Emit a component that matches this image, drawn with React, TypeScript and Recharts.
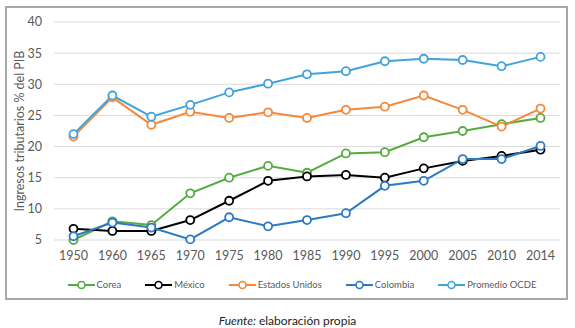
import React from "react";
import {
  LineChart,
  Line,
  XAxis,
  YAxis,
  CartesianGrid,
} from "recharts";

const years = ["1950", "1960", "1965", "1970", "1975", "1980", "1985", "1990", "1995", "2000", "2005", "2010", "2014"];
const corea = [5.0, 8.0, 7.4, 12.5, 15.0, 16.9, 15.8, 18.9, 19.1, 21.5, 22.5, 23.6, 24.6];
const mexico = [6.8, 6.45, 6.45, 8.2, 11.3, 14.5, 15.2, 15.45, 15.0, 16.5, 17.7, 18.5, 19.5];
const estadosUnidos = [21.6, 27.9, 23.5, 25.6, 24.6, 25.5, 24.6, 25.9, 26.4, 28.2, 25.9, 23.2, 26.1];
const colombia = [5.6, 7.8, 7.0, 5.1, 8.65, 7.2, 8.2, 9.3, 13.7, 14.5, 18.0, 18.0, 20.1];
const promedioOcde = [22.0, 28.2, 24.8, 26.7, 28.7, 30.1, 31.6, 32.1, 33.7, 34.1, 33.9, 32.9, 34.4];
const yTicks = [5, 10, 15, 20, 25, 30, 35, 40];

const series = [
  { key: "corea", name: "Corea", color: "#56ab3f", values: corea },
  { key: "mexico", name: "México", color: "#000000", values: mexico },
  { key: "eeuu", name: "Estados Unidos", color: "#f5883a", values: estadosUnidos },
  { key: "colombia", name: "Colombia", color: "#2d79c4", values: colombia },
  { key: "ocde", name: "Promedio OCDE", color: "#40a3dc", values: promedioOcde },
];

const data = years.map((year, i) => {
  const row: Record<string, string | number> = { year };
  series.forEach((s) => {
    row[s.key] = s.values[i];
  });
  return row;
});

const FONT = "Lato, 'Open Sans', sans-serif";

function LegendIcon({ color }: { color: string }) {
  return (
    <svg width={27} height={10} style={{ display: "block", flexShrink: 0 }}>
      <line x1={0} y1={5} x2={27} y2={5} stroke={color} strokeWidth={2} />
      <circle cx={13.5} cy={5} r={3.5} fill="#fff" stroke={color} strokeWidth={1.6} />
    </svg>
  );
}

export default function App() {
  return (
    <div
      style={{
        position: "absolute",
        left: 0,
        top: 0,
        width: 575,
        height: 328,
        background: "#fff",
        fontFamily: FONT,
      }}
    >
      <div
        style={{
          position: "absolute",
          left: 5,
          top: 6,
          width: 559,
          height: 290,
          border: "2px solid #a8a8a8",
        }}
      />
      <div style={{ position: "absolute", left: 0, top: 0 }}>
        <LineChart
          width={575}
          height={300}
          data={data}
          margin={{ top: 22, right: 15, bottom: 30, left: 0 }}
        >
          <CartesianGrid vertical={false} stroke="#dadada" strokeWidth={1} />
          <XAxis
            dataKey="year"
            axisLine={false}
            tickLine={false}
            tickMargin={5}
            height={30}
            padding={{ left: 19.5, right: 19.5 }}
            tick={{ fill: "#595959", fontSize: 12.5, fontFamily: FONT }}
            interval={0}
          />
          <YAxis
            domain={[5, 40]}
            ticks={yTicks}
            width={54}
            axisLine={false}
            tickLine={false}
            tickMargin={6}
            tick={{ fill: "#595959", fontSize: 12.5, fontFamily: FONT }}
            label={{
              content: ({ viewBox }: any) => {
                const cx = 19;
                const cy = viewBox.y + viewBox.height / 2;
                return (
                  <text
                    x={cx}
                    y={cy}
                    transform={`rotate(-90 ${cx} ${cy})`}
                    textAnchor="middle"
                    dominantBaseline="central"
                    fill="#595959"
                    fontSize={12.5}
                    fontFamily={FONT}
                  >
                    Ingresos tributarios % del PIB
                  </text>
                );
              },
            }}
          />
          {series.map((s) => (
            <Line
              key={s.key}
              type="linear"
              dataKey={s.key}
              name={s.name}
              stroke={s.color}
              strokeWidth={2}
              dot={{ r: 4, fill: "#fff", stroke: s.color, strokeWidth: 1.8 }}
              isAnimationActive={false}
            />
          ))}
        </LineChart>
      </div>
      <div
        style={{
          position: "absolute",
          left: 44,
          width: 516,
          top: 279,
          display: "flex",
          justifyContent: "center",
          alignItems: "center",
          gap: 24,
          fontSize: 9.5,
          color: "#595959",
          whiteSpace: "nowrap",
        }}
      >
        {series.map((s) => (
          <div
            key={s.key}
            style={{ display: "flex", alignItems: "center", gap: 2, flexShrink: 0 }}
          >
            <LegendIcon color={s.color} />
            <span>{s.name}</span>
          </div>
        ))}
      </div>
      <div
        style={{
          position: "absolute",
          left: 0,
          width: 575,
          top: 313,
          textAlign: "center",
          fontSize: 12,
          color: "#222",
        }}
      >
        <i>Fuente:</i> elaboración propia
      </div>
    </div>
  );
}
